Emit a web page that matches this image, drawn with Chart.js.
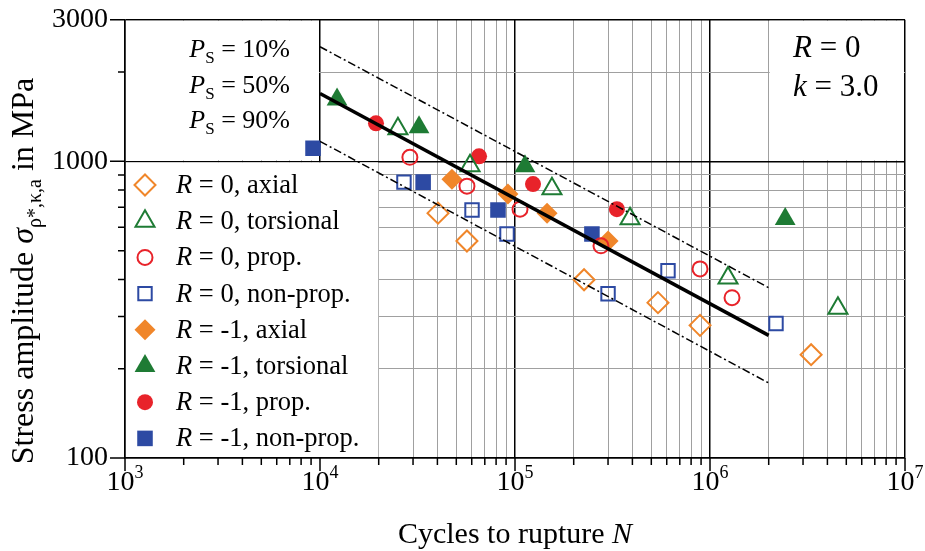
<!DOCTYPE html>
<html>
<head>
<meta charset="utf-8">
<script src="https://cdn.jsdelivr.net/npm/chart.js"></script>
<style>
  body { margin: 0; background: #fff; }
</style>
</head>
<body>
<canvas id="chart" width="925" height="551"></canvas>
<script>
// cycles to rupture N and stress amplitude S (MPa)
const r0AxialN = [40300, 56700, 226000, 541000, 889000, 3300000];
const r0AxialS = [669, 539, 399, 334, 280, 223];
const r0TorsN = [25100, 58800, 154700, 389000, 1237000, 4530000];
const r0TorsS = [1287, 967, 809, 641, 404, 320];
const r0PropN = [28900, 56700, 106100, 276000, 889000, 1297000];
const r0PropS = [1032, 825, 690, 519, 434, 347];
const r0NonPropN = [26950, 60200, 91000, 300000, 609000, 2180000];
const r0NonPropS = [851, 685, 569, 358, 428, 284];
const rm1AxialN = [47500, 92000, 146000, 300000];
const rm1AxialS = [871, 776, 669, 539];
const rm1TorsN = [12230, 32200, 112500, 2430000];
const rm1TorsS = [1616, 1302, 963, 639];
const rm1PropN = [19370, 65400, 123700, 333000];
const rm1PropS = [1343, 1040, 838, 690];
const rm1NonPropN = [9210, 33800, 81800, 248000];
const rm1NonPropS = [1107, 851, 685, 569];

// S-N curves for Ps = 10 %, 50 %, 90 %
const fitN = [1e4, 2e6];
const fitS10 = [2434, 375];
const fitS50 = [1693, 259];
const fitS90 = [1168, 179];

const xDecades = [1e3, 1e4, 1e5, 1e6, 1e7];
const yLabels = [100, 1000, 3000];
const legendLabels = ['R = 0, axial', 'R = 0, torsional', 'R = 0, prop.', 'R = 0, non-prop.',
  'R = -1, axial', 'R = -1, torsional', 'R = -1, prop.', 'R = -1, non-prop.'];
const psLabels = ['10%', '50%', '90%'];

const ORANGE = '#f0862a', GREEN = '#1e7b34', RED = '#e8232a', BLUE = '#2d4aa3';
const serif = '"Liberation Serif", "Times New Roman", serif';

function pts(ns, ss) {
  return ns.map((n, i) => ({x: n, y: ss[i]}));
}

function marker(label, ns, ss, style, color, r, open) {
  return {
    label: label,
    data: pts(ns, ss),
    pointStyle: style,
    pointRadius: r,
    pointBorderWidth: open ? 2 : 0,
    pointBorderColor: color,
    pointBackgroundColor: open ? 'rgba(0,0,0,0)' : color,
    showLine: false
  };
}

function fitLine(ss, width, dash) {
  return {
    data: pts(fitN, ss),
    showLine: true,
    borderColor: '#000',
    borderWidth: width,
    borderDash: dash,
    pointRadius: 0
  };
}

const series = [
  marker(legendLabels[0], r0AxialN, r0AxialS, 'rectRot', ORANGE, 10.5, true),
  marker(legendLabels[1], r0TorsN, r0TorsS, 'triangle', GREEN, 11, true),
  marker(legendLabels[2], r0PropN, r0PropS, 'circle', RED, 7.5, true),
  marker(legendLabels[3], r0NonPropN, r0NonPropS, 'rect', BLUE, 9.5, true),
  marker(legendLabels[4], rm1AxialN, rm1AxialS, 'rectRot', ORANGE, 10.5, false),
  marker(legendLabels[5], rm1TorsN, rm1TorsS, 'triangle', GREEN, 12, false),
  marker(legendLabels[6], rm1PropN, rm1PropS, 'circle', RED, 8, false),
  marker(legendLabels[7], rm1NonPropN, rm1NonPropS, 'rect', BLUE, 11, false)
];

function isDecade(v) {
  const l = Math.log10(v);
  return Math.abs(l - Math.round(l)) < 1e-9;
}

function logTicks(min, max) {
  const out = [];
  for (let d = Math.pow(10, Math.floor(Math.log10(min))); d <= max; d *= 10) {
    for (let m = 1; m <= 9; m++) {
      const v = m * d;
      if (v >= min && v <= max) out.push({value: v});
    }
  }
  return out;
}

// draw a row of text pieces with their own font / offset
function runs(ctx, parts, x, y, align) {
  let total = 0;
  parts.forEach(p => {
    p.font = (p.italic ? 'italic ' : '') + p.size + 'px ' + serif;
    ctx.font = p.font;
    p.w = ctx.measureText(p.t).width;
    total += p.w;
  });
  let cx = align === 'right' ? x - total : align === 'center' ? x - total / 2 : x;
  ctx.textAlign = 'left';
  ctx.textBaseline = 'alphabetic';
  parts.forEach(p => {
    ctx.font = p.font;
    ctx.fillText(p.t, cx, y + (p.dy || 0));
    cx += p.w;
  });
}

const boxes = {
  id: 'boxes',
  beforeDatasetsDraw(chart) {
    const ctx = chart.ctx, a = chart.chartArea;
    const xs = chart.scales.x, ys = chart.scales.y;
    const y1000 = ys.getPixelForValue(1000);
    const x1e4 = xs.getPixelForValue(1e4);
    const x2e4 = xs.getPixelForValue(2e4);
    const x2e6 = xs.getPixelForValue(2e6);
    ctx.save();
    ctx.fillStyle = '#fff';
    ctx.fillRect(a.left + 1, a.top + 1, x1e4 - a.left - 2, y1000 - a.top - 2);
    ctx.fillRect(a.left + 1, y1000 + 1, x2e4 - a.left - 1.5, a.bottom - y1000 - 2);
    ctx.fillRect(x2e6 + 1, a.top + 1, a.right - x2e6 - 2, y1000 - a.top - 2);
    ctx.restore();
  }
};

const decor = {
  id: 'decor',
  afterDraw(chart) {
    const ctx = chart.ctx, a = chart.chartArea;
    const xs = chart.scales.x, ys = chart.scales.y;
    ctx.save();
    ctx.strokeStyle = '#000';
    ctx.fillStyle = '#000';
    ctx.lineWidth = 1.5;

    // tick marks outside the axes
    ctx.beginPath();
    xs.ticks.forEach(t => {
      const px = xs.getPixelForValue(t.value);
      ctx.moveTo(px, a.bottom);
      ctx.lineTo(px, a.bottom + (isDecade(t.value) ? 13 : 7));
    });
    ys.ticks.forEach(t => {
      const py = ys.getPixelForValue(t.value);
      ctx.moveTo(a.left, py);
      ctx.lineTo(a.left - (yLabels.includes(t.value) ? 15 : 7), py);
    });
    ctx.stroke();

    // x tick labels 10^n
    xDecades.forEach(v => {
      const px = xs.getPixelForValue(v);
      runs(ctx, [{t: '10', size: 28}, {t: String(Math.round(Math.log10(v))), size: 18, dy: -12}], px, 490, 'center');
    });

    // axis titles
    runs(ctx, [{t: 'Cycles to rupture ', size: 30}, {t: 'N', size: 30, italic: true}], (a.left + a.right) / 2, 543, 'center');
    ctx.save();
    ctx.translate(33, 271);
    ctx.rotate(-Math.PI / 2);
    runs(ctx, [
      {t: 'Stress amplitude ', size: 32},
      {t: 'σ', size: 32, italic: true},
      {t: 'ρ*,κ,a', size: 20, dy: 8},
      {t: ' in MPa', size: 32}
    ], 0, 0, 'center');
    ctx.restore();

    // Ps annotations
    psLabels.forEach((p, i) => {
      runs(ctx, [
        {t: 'P', size: 26, italic: true},
        {t: 'S', size: 17, dy: 6},
        {t: ' = ' + p, size: 26}
      ], 290, 57 + i * 35.5, 'right');
    });

    // R and k annotation
    runs(ctx, [{t: 'R', size: 31, italic: true}, {t: ' = 0', size: 31}], 793, 57, 'left');
    runs(ctx, [{t: 'k', size: 31, italic: true}, {t: ' = 3.0', size: 31}], 793, 96, 'left');

    // legend
    series.forEach((ds, i) => {
      const cy = 185 + i * 36.2;
      ctx.fillStyle = ds.pointBackgroundColor;
      ctx.strokeStyle = ds.pointBorderColor;
      ctx.lineWidth = ds.pointBorderWidth;
      Chart.helpers.drawPoint(ctx, {
        pointStyle: ds.pointStyle,
        radius: ds.pointRadius,
        rotation: 0,
        borderWidth: ds.pointBorderWidth
      }, 145, cy);
      ctx.fillStyle = '#000';
      runs(ctx, [{t: 'R', size: 26.5, italic: true}, {t: ds.label.slice(1), size: 26.5}], 176, cy + 8, 'left');
    });
    ctx.restore();
  }
};

function gridColor(c, edge) {
  if (!c.tick) return '#a0a0a0';
  return isDecade(c.tick.value) || c.tick.value === edge ? '#000' : '#a0a0a0';
}
function gridWidth(c, edge) {
  if (!c.tick) return 1;
  return isDecade(c.tick.value) || c.tick.value === edge ? 1.5 : 1;
}

new Chart(document.getElementById('chart'), {
  type: 'scatter',
  data: {
    datasets: [
      fitLine(fitS50, 3.5, []),
      fitLine(fitS10, 1.5, [8, 3, 2, 3]),
      fitLine(fitS90, 1.5, [8, 3, 2, 3])
    ].concat(series)
  },
  options: {
    responsive: false,
    animation: false,
    layout: {padding: {top: 4, right: 20, left: 0, bottom: 0}},
    plugins: {legend: {display: false}, tooltip: {enabled: false}},
    scales: {
      x: {
        type: 'logarithmic',
        min: 1e3,
        max: 1e7,
        afterBuildTicks: s => { s.ticks = logTicks(1e3, 1e7); },
        afterFit: s => { s.height = 93; },
        ticks: {display: false, autoSkip: false},
        grid: {
          drawTicks: false,
          tickLength: 0,
          color: c => gridColor(c, 1e7),
          lineWidth: c => gridWidth(c, 1e7)
        },
        border: {color: '#000', width: 1.5}
      },
      y: {
        type: 'logarithmic',
        min: 100,
        max: 3000,
        afterBuildTicks: s => { s.ticks = logTicks(100, 3000); },
        afterFit: s => { s.width = 125; },
        ticks: {
          autoSkip: false,
          padding: 3,
          color: '#000',
          font: {family: serif, size: 28},
          callback: v => yLabels.includes(v) ? String(v) : ''
        },
        grid: {
          drawTicks: true,
          tickLength: 14,
          tickColor: 'rgba(0,0,0,0)',
          color: c => gridColor(c, 3000),
          lineWidth: c => gridWidth(c, 3000)
        },
        border: {color: '#000', width: 1.5}
      }
    }
  },
  plugins: [boxes, decor]
});
</script>
</body>
</html>
